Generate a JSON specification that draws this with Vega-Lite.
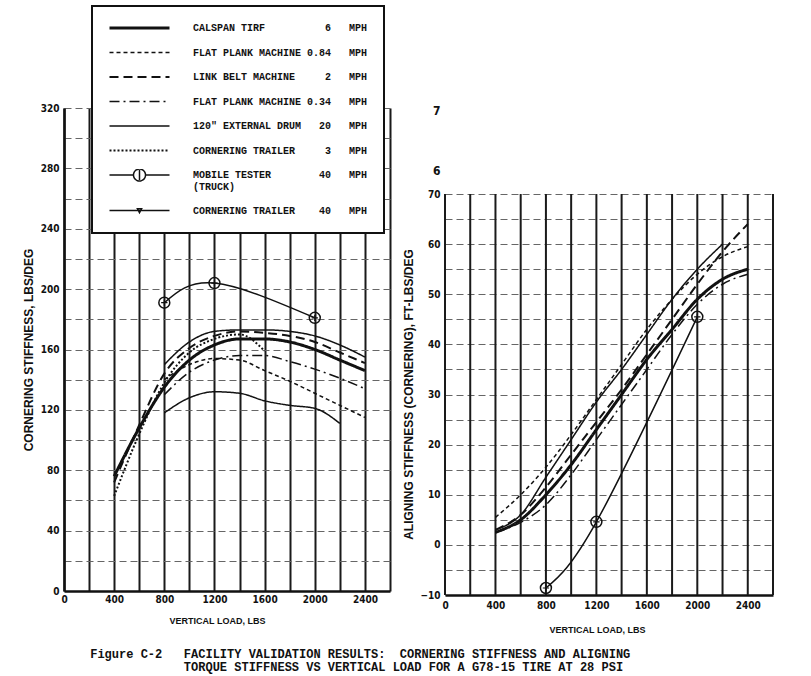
{
  "$schema": "https://vega.github.io/schema/vega-lite/v6.json",
  "background": "white",
  "padding": {"left": 22, "top": 5, "right": 5, "bottom": 2},
  "config": {
    "view": {"stroke": null},
    "font": "Liberation Sans Narrow, DejaVu Sans Condensed, Liberation Sans, sans-serif",
    "axis": {
      "labelFont": "Liberation Sans Narrow, DejaVu Sans Condensed, Liberation Sans, sans-serif",
      "labelFontSize": 10,
      "labelFontWeight": "bold",
      "labelColor": "#111",
      "titleFont": "Liberation Sans, Arial, sans-serif",
      "titleFontSize": 10,
      "titleFontWeight": "bold",
      "titleColor": "#111",
      "ticks": false,
      "domainColor": "#111",
      "labelFlush": false,
      "labelOverlap": false
    },
    "axisX": {"titleFontSize": 9}
  },
  "title": {
    "text": [
      "Figure C-2\u00a0\u00a0\u00a0FACILITY VALIDATION RESULTS:\u00a0 CORNERING STIFFNESS AND ALIGNING",
      "\u200b\u00a0\u00a0\u00a0\u00a0\u00a0\u00a0\u00a0\u00a0\u00a0\u00a0\u00a0\u00a0\u00a0TORQUE STIFFNESS VS VERTICAL LOAD FOR A G78-15 TIRE AT 28 PSI"
    ],
    "orient": "bottom",
    "anchor": "start",
    "dx": 68,
    "offset": 15,
    "font": "Liberation Mono, DejaVu Sans Mono, monospace",
    "fontSize": 12,
    "fontWeight": "bold",
    "lineHeight": 13,
    "color": "#111"
  },
  "datasets": {
    "verticals": [
      {"load": 0, "bottom": -10, "top": 70}, {"load": 200, "bottom": -10, "top": 70},
      {"load": 400, "bottom": -10, "top": 70}, {"load": 600, "bottom": -10, "top": 70},
      {"load": 800, "bottom": -10, "top": 70}, {"load": 1000, "bottom": -10, "top": 70},
      {"load": 1200, "bottom": -10, "top": 70}, {"load": 1400, "bottom": -10, "top": 70},
      {"load": 1600, "bottom": -10, "top": 70}, {"load": 1800, "bottom": -10, "top": 70},
      {"load": 2000, "bottom": -10, "top": 70}, {"load": 2200, "bottom": -10, "top": 70},
      {"load": 2400, "bottom": -10, "top": 70}, {"load": 2600, "bottom": -10, "top": 70}
    ],
    "loads": [
      {"panel": "cornering", "series": "CALSPAN TIRF, 6 MPH", "load": 400, "value": 76},
      {"panel": "cornering", "series": "CALSPAN TIRF, 6 MPH", "load": 600, "value": 108},
      {"panel": "cornering", "series": "CALSPAN TIRF, 6 MPH", "load": 800, "value": 135},
      {"panel": "cornering", "series": "CALSPAN TIRF, 6 MPH", "load": 1000, "value": 153},
      {"panel": "cornering", "series": "CALSPAN TIRF, 6 MPH", "load": 1200, "value": 163},
      {"panel": "cornering", "series": "CALSPAN TIRF, 6 MPH", "load": 1400, "value": 167},
      {"panel": "cornering", "series": "CALSPAN TIRF, 6 MPH", "load": 1600, "value": 167},
      {"panel": "cornering", "series": "CALSPAN TIRF, 6 MPH", "load": 1800, "value": 165},
      {"panel": "cornering", "series": "CALSPAN TIRF, 6 MPH", "load": 2000, "value": 160},
      {"panel": "cornering", "series": "CALSPAN TIRF, 6 MPH", "load": 2200, "value": 153},
      {"panel": "cornering", "series": "CALSPAN TIRF, 6 MPH", "load": 2400, "value": 146},
      {"panel": "cornering", "series": "FLAT PLANK MACHINE, 0.84 MPH", "load": 800, "value": 140},
      {"panel": "cornering", "series": "FLAT PLANK MACHINE, 0.84 MPH", "load": 1000, "value": 150},
      {"panel": "cornering", "series": "FLAT PLANK MACHINE, 0.84 MPH", "load": 1200, "value": 154},
      {"panel": "cornering", "series": "FLAT PLANK MACHINE, 0.84 MPH", "load": 1400, "value": 153},
      {"panel": "cornering", "series": "FLAT PLANK MACHINE, 0.84 MPH", "load": 1600, "value": 146},
      {"panel": "cornering", "series": "FLAT PLANK MACHINE, 0.84 MPH", "load": 1800, "value": 139},
      {"panel": "cornering", "series": "FLAT PLANK MACHINE, 0.84 MPH", "load": 2000, "value": 131},
      {"panel": "cornering", "series": "FLAT PLANK MACHINE, 0.84 MPH", "load": 2200, "value": 123},
      {"panel": "cornering", "series": "FLAT PLANK MACHINE, 0.84 MPH", "load": 2400, "value": 115},
      {"panel": "cornering", "series": "LINK BELT MACHINE, 2 MPH", "load": 400, "value": 72},
      {"panel": "cornering", "series": "LINK BELT MACHINE, 2 MPH", "load": 600, "value": 110},
      {"panel": "cornering", "series": "LINK BELT MACHINE, 2 MPH", "load": 800, "value": 144},
      {"panel": "cornering", "series": "LINK BELT MACHINE, 2 MPH", "load": 1000, "value": 161},
      {"panel": "cornering", "series": "LINK BELT MACHINE, 2 MPH", "load": 1200, "value": 169},
      {"panel": "cornering", "series": "LINK BELT MACHINE, 2 MPH", "load": 1400, "value": 172},
      {"panel": "cornering", "series": "LINK BELT MACHINE, 2 MPH", "load": 1600, "value": 171},
      {"panel": "cornering", "series": "LINK BELT MACHINE, 2 MPH", "load": 1800, "value": 169},
      {"panel": "cornering", "series": "LINK BELT MACHINE, 2 MPH", "load": 2000, "value": 165},
      {"panel": "cornering", "series": "LINK BELT MACHINE, 2 MPH", "load": 2200, "value": 158},
      {"panel": "cornering", "series": "LINK BELT MACHINE, 2 MPH", "load": 2400, "value": 151},
      {"panel": "cornering", "series": "FLAT PLANK MACHINE, 0.34 MPH", "load": 800, "value": 130},
      {"panel": "cornering", "series": "FLAT PLANK MACHINE, 0.34 MPH", "load": 1000, "value": 145},
      {"panel": "cornering", "series": "FLAT PLANK MACHINE, 0.34 MPH", "load": 1200, "value": 153},
      {"panel": "cornering", "series": "FLAT PLANK MACHINE, 0.34 MPH", "load": 1400, "value": 156},
      {"panel": "cornering", "series": "FLAT PLANK MACHINE, 0.34 MPH", "load": 1600, "value": 156},
      {"panel": "cornering", "series": "FLAT PLANK MACHINE, 0.34 MPH", "load": 1800, "value": 152},
      {"panel": "cornering", "series": "FLAT PLANK MACHINE, 0.34 MPH", "load": 2000, "value": 147},
      {"panel": "cornering", "series": "FLAT PLANK MACHINE, 0.34 MPH", "load": 2200, "value": 141},
      {"panel": "cornering", "series": "FLAT PLANK MACHINE, 0.34 MPH", "load": 2400, "value": 134},
      {"panel": "cornering", "series": "120\" EXTERNAL DRUM, 20 MPH", "load": 800, "value": 150},
      {"panel": "cornering", "series": "120\" EXTERNAL DRUM, 20 MPH", "load": 1000, "value": 165},
      {"panel": "cornering", "series": "120\" EXTERNAL DRUM, 20 MPH", "load": 1200, "value": 172},
      {"panel": "cornering", "series": "120\" EXTERNAL DRUM, 20 MPH", "load": 1400, "value": 173},
      {"panel": "cornering", "series": "120\" EXTERNAL DRUM, 20 MPH", "load": 1600, "value": 173},
      {"panel": "cornering", "series": "120\" EXTERNAL DRUM, 20 MPH", "load": 1800, "value": 172},
      {"panel": "cornering", "series": "120\" EXTERNAL DRUM, 20 MPH", "load": 2000, "value": 169},
      {"panel": "cornering", "series": "120\" EXTERNAL DRUM, 20 MPH", "load": 2200, "value": 163},
      {"panel": "cornering", "series": "120\" EXTERNAL DRUM, 20 MPH", "load": 2400, "value": 155},
      {"panel": "cornering", "series": "CORNERING TRAILER, 3 MPH", "load": 400, "value": 63},
      {"panel": "cornering", "series": "CORNERING TRAILER, 3 MPH", "load": 600, "value": 104},
      {"panel": "cornering", "series": "CORNERING TRAILER, 3 MPH", "load": 800, "value": 138},
      {"panel": "cornering", "series": "CORNERING TRAILER, 3 MPH", "load": 1000, "value": 158},
      {"panel": "cornering", "series": "CORNERING TRAILER, 3 MPH", "load": 1200, "value": 167},
      {"panel": "cornering", "series": "CORNERING TRAILER, 3 MPH", "load": 1400, "value": 170},
      {"panel": "cornering", "series": "CORNERING TRAILER, 3 MPH", "load": 1600, "value": 159},
      {"panel": "cornering", "series": "MOBILE TESTER (TRUCK), 40 MPH", "load": 800, "value": 191},
      {"panel": "cornering", "series": "MOBILE TESTER (TRUCK), 40 MPH", "load": 1200, "value": 204},
      {"panel": "cornering", "series": "MOBILE TESTER (TRUCK), 40 MPH", "load": 2000, "value": 181},
      {"panel": "cornering", "series": "CORNERING TRAILER, 40 MPH", "load": 800, "value": 118},
      {"panel": "cornering", "series": "CORNERING TRAILER, 40 MPH", "load": 1000, "value": 128},
      {"panel": "cornering", "series": "CORNERING TRAILER, 40 MPH", "load": 1200, "value": 132},
      {"panel": "cornering", "series": "CORNERING TRAILER, 40 MPH", "load": 1400, "value": 131},
      {"panel": "cornering", "series": "CORNERING TRAILER, 40 MPH", "load": 1600, "value": 126},
      {"panel": "cornering", "series": "CORNERING TRAILER, 40 MPH", "load": 1800, "value": 123},
      {"panel": "cornering", "series": "CORNERING TRAILER, 40 MPH", "load": 2000, "value": 121},
      {"panel": "cornering", "series": "CORNERING TRAILER, 40 MPH", "load": 2200, "value": 111},
      {"panel": "aligning", "series": "CALSPAN TIRF, 6 MPH", "load": 400, "value": 2.5},
      {"panel": "aligning", "series": "CALSPAN TIRF, 6 MPH", "load": 600, "value": 5},
      {"panel": "aligning", "series": "CALSPAN TIRF, 6 MPH", "load": 800, "value": 10},
      {"panel": "aligning", "series": "CALSPAN TIRF, 6 MPH", "load": 1000, "value": 16},
      {"panel": "aligning", "series": "CALSPAN TIRF, 6 MPH", "load": 1200, "value": 23},
      {"panel": "aligning", "series": "CALSPAN TIRF, 6 MPH", "load": 1400, "value": 30},
      {"panel": "aligning", "series": "CALSPAN TIRF, 6 MPH", "load": 1600, "value": 37},
      {"panel": "aligning", "series": "CALSPAN TIRF, 6 MPH", "load": 1800, "value": 43},
      {"panel": "aligning", "series": "CALSPAN TIRF, 6 MPH", "load": 2000, "value": 49},
      {"panel": "aligning", "series": "CALSPAN TIRF, 6 MPH", "load": 2200, "value": 53},
      {"panel": "aligning", "series": "CALSPAN TIRF, 6 MPH", "load": 2400, "value": 55},
      {"panel": "aligning", "series": "FLAT PLANK MACHINE, 0.84 MPH", "load": 400, "value": 5.5},
      {"panel": "aligning", "series": "FLAT PLANK MACHINE, 0.84 MPH", "load": 600, "value": 10},
      {"panel": "aligning", "series": "FLAT PLANK MACHINE, 0.84 MPH", "load": 800, "value": 15.5},
      {"panel": "aligning", "series": "FLAT PLANK MACHINE, 0.84 MPH", "load": 1000, "value": 22},
      {"panel": "aligning", "series": "FLAT PLANK MACHINE, 0.84 MPH", "load": 1200, "value": 29},
      {"panel": "aligning", "series": "FLAT PLANK MACHINE, 0.84 MPH", "load": 1400, "value": 36},
      {"panel": "aligning", "series": "FLAT PLANK MACHINE, 0.84 MPH", "load": 1600, "value": 43},
      {"panel": "aligning", "series": "FLAT PLANK MACHINE, 0.84 MPH", "load": 1800, "value": 49},
      {"panel": "aligning", "series": "FLAT PLANK MACHINE, 0.84 MPH", "load": 2000, "value": 54},
      {"panel": "aligning", "series": "FLAT PLANK MACHINE, 0.84 MPH", "load": 2200, "value": 57.5},
      {"panel": "aligning", "series": "FLAT PLANK MACHINE, 0.84 MPH", "load": 2400, "value": 59.5},
      {"panel": "aligning", "series": "LINK BELT MACHINE, 2 MPH", "load": 400, "value": 3},
      {"panel": "aligning", "series": "LINK BELT MACHINE, 2 MPH", "load": 600, "value": 6},
      {"panel": "aligning", "series": "LINK BELT MACHINE, 2 MPH", "load": 800, "value": 11.5},
      {"panel": "aligning", "series": "LINK BELT MACHINE, 2 MPH", "load": 1000, "value": 18},
      {"panel": "aligning", "series": "LINK BELT MACHINE, 2 MPH", "load": 1200, "value": 24.5},
      {"panel": "aligning", "series": "LINK BELT MACHINE, 2 MPH", "load": 1400, "value": 31},
      {"panel": "aligning", "series": "LINK BELT MACHINE, 2 MPH", "load": 1600, "value": 38},
      {"panel": "aligning", "series": "LINK BELT MACHINE, 2 MPH", "load": 1800, "value": 45},
      {"panel": "aligning", "series": "LINK BELT MACHINE, 2 MPH", "load": 2000, "value": 52},
      {"panel": "aligning", "series": "LINK BELT MACHINE, 2 MPH", "load": 2200, "value": 58.5},
      {"panel": "aligning", "series": "LINK BELT MACHINE, 2 MPH", "load": 2400, "value": 64},
      {"panel": "aligning", "series": "FLAT PLANK MACHINE, 0.34 MPH", "load": 400, "value": 2.5},
      {"panel": "aligning", "series": "FLAT PLANK MACHINE, 0.34 MPH", "load": 600, "value": 4.5},
      {"panel": "aligning", "series": "FLAT PLANK MACHINE, 0.34 MPH", "load": 800, "value": 8},
      {"panel": "aligning", "series": "FLAT PLANK MACHINE, 0.34 MPH", "load": 1000, "value": 14},
      {"panel": "aligning", "series": "FLAT PLANK MACHINE, 0.34 MPH", "load": 1200, "value": 21},
      {"panel": "aligning", "series": "FLAT PLANK MACHINE, 0.34 MPH", "load": 1400, "value": 28},
      {"panel": "aligning", "series": "FLAT PLANK MACHINE, 0.34 MPH", "load": 1600, "value": 35},
      {"panel": "aligning", "series": "FLAT PLANK MACHINE, 0.34 MPH", "load": 1800, "value": 42},
      {"panel": "aligning", "series": "FLAT PLANK MACHINE, 0.34 MPH", "load": 2000, "value": 48},
      {"panel": "aligning", "series": "FLAT PLANK MACHINE, 0.34 MPH", "load": 2200, "value": 52},
      {"panel": "aligning", "series": "FLAT PLANK MACHINE, 0.34 MPH", "load": 2400, "value": 54},
      {"panel": "aligning", "series": "120\" EXTERNAL DRUM, 20 MPH", "load": 400, "value": 3},
      {"panel": "aligning", "series": "120\" EXTERNAL DRUM, 20 MPH", "load": 600, "value": 6},
      {"panel": "aligning", "series": "120\" EXTERNAL DRUM, 20 MPH", "load": 800, "value": 13.5},
      {"panel": "aligning", "series": "120\" EXTERNAL DRUM, 20 MPH", "load": 1000, "value": 21},
      {"panel": "aligning", "series": "120\" EXTERNAL DRUM, 20 MPH", "load": 1200, "value": 28.5},
      {"panel": "aligning", "series": "120\" EXTERNAL DRUM, 20 MPH", "load": 1400, "value": 35},
      {"panel": "aligning", "series": "120\" EXTERNAL DRUM, 20 MPH", "load": 1600, "value": 42},
      {"panel": "aligning", "series": "120\" EXTERNAL DRUM, 20 MPH", "load": 1800, "value": 49},
      {"panel": "aligning", "series": "120\" EXTERNAL DRUM, 20 MPH", "load": 2000, "value": 55},
      {"panel": "aligning", "series": "120\" EXTERNAL DRUM, 20 MPH", "load": 2200, "value": 60},
      {"panel": "aligning", "series": "MOBILE TESTER (TRUCK), 40 MPH", "load": 800, "value": -8.6},
      {"panel": "aligning", "series": "MOBILE TESTER (TRUCK), 40 MPH", "load": 1200, "value": 4.6},
      {"panel": "aligning", "series": "MOBILE TESTER (TRUCK), 40 MPH", "load": 2000, "value": 45.5}
    ]
  },
  "spacing": 12,
  "resolve": {"scale": {"strokeDash": "independent", "strokeWidth": "independent"}},
  "hconcat": [
    {
      "width": 326,
      "height": 483,
      "data": {"name": "loads"},
      "transform": [{"filter": "datum.panel == 'cornering'"}],
      "encoding": {
        "x": {
          "field": "load",
          "type": "quantitative",
          "scale": {"domain": [0, 2600], "nice": false},
          "axis": {
            "title": "VERTICAL LOAD, LBS",
            "values": [0, 200, 400, 600, 800, 1000, 1200, 1400, 1600, 1800, 2000, 2200, 2400, 2600],
            "format": "d",
            "labelExpr": "datum.value % 400 == 0 && datum.value <= 2400 ? datum.label : ''",
            "grid": true,
            "gridColor": "#1a1a1a",
            "gridWidth": 2,
            "domainWidth": 2.5,
            "labelPadding": 3,
            "titlePadding": 12,
            "titleX": 153
          }
        },
        "y": {
          "field": "value",
          "type": "quantitative",
          "scale": {"domain": [0, 320], "nice": false},
          "axis": {
            "title": "CORNERING STIFFNESS, LBS/DEG",
            "values": [0, 20, 40, 60, 80, 100, 120, 140, 160, 180, 200, 220, 240, 260, 280, 300, 320],
            "format": "d",
            "labelExpr": "datum.value % 40 == 0 ? datum.label : ''",
            "grid": true,
            "gridColor": "#666",
            "gridDash": [7, 4],
            "gridWidth": 1,
            "domainWidth": 2.5,
            "labelPadding": 5,
            "titleFontSize": 12,
            "titlePadding": 5
          }
        }
      },
      "layer": [
        {
          "transform": [{"filter": "datum.series != 'MOBILE TESTER (TRUCK), 40 MPH'"}],
          "mark": {"type": "line", "interpolate": "monotone", "color": "#111"},
          "encoding": {
            "strokeDash": {
              "field": "series",
              "type": "nominal",
              "scale": {
                "domain": ["CALSPAN TIRF, 6 MPH", "FLAT PLANK MACHINE, 0.84 MPH", "LINK BELT MACHINE, 2 MPH", "FLAT PLANK MACHINE, 0.34 MPH", "120\" EXTERNAL DRUM, 20 MPH", "CORNERING TRAILER, 3 MPH", "MOBILE TESTER (TRUCK), 40 MPH", "CORNERING TRAILER, 40 MPH"],
                "range": [[1, 0], [4, 3], [9, 5], [10, 4, 2, 4], [1, 0], [2, 2], [1, 0], [1, 0]]
              },
              "legend": {
                "title": null,
                "orient": "none",
                "legendX": 28,
                "legendY": -102,
                "direction": "vertical",
                "symbolType": "stroke",
                "symbolSize": 3600,
                "symbolStrokeColor": "#111",
                "clipHeight": 12,
                "rowPadding": 12.5,
                "labelOffset": 22,
                "labelLimit": 320,
                "labelFont": "Liberation Mono, DejaVu Sans Mono, monospace",
                "labelFontSize": 10,
                "labelFontWeight": "bold",
                "labelColor": "#111",
                "padding": 16,
                "fillColor": "white",
                "strokeColor": "#111",
                "labelExpr": "indexof(datum.label, 'MOBILE') >= 0 ? [pad('MOBILE TESTER', 19, '\u00a0') + pad('40', 4, '\u00a0', 'left') + '\u00a0\u00a0\u00a0MPH', '(TRUCK)'] : pad(split(datum.label, ', ')[0], 19, '\u00a0') + pad(split(split(datum.label, ', ')[1], ' ')[0], 4, '\u00a0', 'left') + '\u00a0\u00a0\u00a0MPH'",
                "encode": {
                  "legend": {"update": {"strokeWidth": {"value": 2}}},
                  "symbols": {"update": {"shape": {"signal": "indexof(datum.value, 'MOBILE') >= 0 ? 'M-1,0L-0.2,0M0.2,0L1,0M-0.2,0A0.2,0.2 0 1 1 0.2,0A0.2,0.2 0 1 1 -0.2,0M0,-0.17L0,0.17' : datum.value == 'CORNERING TRAILER, 40 MPH' ? 'M-1,0L1,0M-0.07,-0.06L0.07,-0.06L0,0.07Z' : 'stroke'"}}}
                }
              }
            },
            "strokeWidth": {
              "field": "series",
              "type": "nominal",
              "scale": {
                "type": "ordinal",
                "domain": ["CALSPAN TIRF, 6 MPH", "FLAT PLANK MACHINE, 0.84 MPH", "LINK BELT MACHINE, 2 MPH", "FLAT PLANK MACHINE, 0.34 MPH", "120\" EXTERNAL DRUM, 20 MPH", "CORNERING TRAILER, 3 MPH", "MOBILE TESTER (TRUCK), 40 MPH", "CORNERING TRAILER, 40 MPH"],
                "range": [3, 1.5, 2, 1.5, 1.5, 2, 1.5, 1.5]
              },
              "legend": {
                "title": null,
                "orient": "none",
                "legendX": 28,
                "legendY": -102,
                "direction": "vertical",
                "symbolType": "stroke",
                "symbolSize": 3600,
                "symbolStrokeColor": "#111",
                "clipHeight": 12,
                "rowPadding": 12.5,
                "labelOffset": 22,
                "labelLimit": 320,
                "labelFont": "Liberation Mono, DejaVu Sans Mono, monospace",
                "labelFontSize": 10,
                "labelFontWeight": "bold",
                "labelColor": "#111",
                "padding": 16,
                "fillColor": "white",
                "strokeColor": "#111",
                "labelExpr": "indexof(datum.label, 'MOBILE') >= 0 ? [pad('MOBILE TESTER', 19, '\u00a0') + pad('40', 4, '\u00a0', 'left') + '\u00a0\u00a0\u00a0MPH', '(TRUCK)'] : pad(split(datum.label, ', ')[0], 19, '\u00a0') + pad(split(split(datum.label, ', ')[1], ' ')[0], 4, '\u00a0', 'left') + '\u00a0\u00a0\u00a0MPH'",
                "encode": {
                  "legend": {"update": {"strokeWidth": {"value": 2}}},
                  "symbols": {"update": {"shape": {"signal": "indexof(datum.value, 'MOBILE') >= 0 ? 'M-1,0L-0.2,0M0.2,0L1,0M-0.2,0A0.2,0.2 0 1 1 0.2,0A0.2,0.2 0 1 1 -0.2,0M0,-0.17L0,0.17' : datum.value == 'CORNERING TRAILER, 40 MPH' ? 'M-1,0L1,0M-0.07,-0.06L0.07,-0.06L0,0.07Z' : 'stroke'"}}}
                }
              }
            }
          }
        },
        {
          "transform": [{"filter": "datum.series == 'MOBILE TESTER (TRUCK), 40 MPH'"}],
          "mark": {"type": "line", "interpolate": "natural", "color": "#111", "strokeWidth": 1.5},
          "encoding": {}
        },
        {
          "transform": [{"filter": "datum.series == 'MOBILE TESTER (TRUCK), 40 MPH'"}],
          "mark": {"type": "point", "shape": "circle", "size": 120, "filled": false, "stroke": "#111", "strokeWidth": 1.5, "opacity": 1}
        },
        {
          "transform": [{"filter": "datum.series == 'MOBILE TESTER (TRUCK), 40 MPH'"}],
          "mark": {"type": "point", "shape": "M0,-1L0,1M-1,0L1,0", "size": 40, "filled": false, "stroke": "#111", "strokeWidth": 1.2, "opacity": 1}
        }
      ]
    },
    {
      "width": 328,
      "height": 487,
      "encoding": {
        "x": {
          "field": "load",
          "type": "quantitative",
          "scale": {"domain": [0, 2600], "nice": false},
          "axis": {
            "title": "VERTICAL LOAD, LBS",
            "values": [0, 200, 400, 600, 800, 1000, 1200, 1400, 1600, 1800, 2000, 2200, 2400, 2600],
            "format": "d",
            "labelExpr": "datum.value % 400 == 0 && datum.value <= 2400 ? datum.label : ''",
            "grid": false,
            "domainWidth": 2.5,
            "labelPadding": 5,
            "titlePadding": 15,
            "titleX": 152
          }
        },
        "y": {
          "field": "value",
          "type": "quantitative",
          "scale": {"domain": [-10, 87.16], "nice": false},
          "axis": {
            "title": "ALIGNING STIFFNESS (CORNERING), FT-LBS/DEG",
            "titleY": 286,
            "values": [-10, -5, 0, 5, 10, 15, 20, 25, 30, 35, 40, 45, 50, 55, 60, 65, 70, 74.6, 86.6],
            "labelExpr": "datum.value == 86.6 ? '7' : datum.value == 74.6 ? '6' : datum.value % 10 == 0 ? format(datum.value, 'd') : ''",
            "labelFontSize": {"condition": {"test": "datum.value > 70", "value": 12}, "value": 10},
            "grid": true,
            "gridColor": "#666",
            "gridDash": [7, 4],
            "gridWidth": 1,
            "gridOpacity": {"condition": {"test": "datum.value > 70", "value": 0}, "value": 1},
            "domain": false,
            "labelPadding": 5,
            "titleFontSize": 12,
            "titlePadding": 4
          }
        }
      },
      "layer": [
        {
          "data": {"name": "verticals"},
          "mark": {"type": "rule", "color": "#1a1a1a", "strokeWidth": 2},
          "encoding": {
            "x": {"field": "load", "type": "quantitative"},
            "y": {"field": "bottom", "type": "quantitative"},
            "y2": {"field": "top"}
          }
        },
        {
          "data": {"name": "loads"},
          "transform": [{"filter": "datum.panel == 'aligning' && datum.series != 'MOBILE TESTER (TRUCK), 40 MPH'"}],
          "mark": {"type": "line", "interpolate": "monotone", "color": "#111"},
          "encoding": {
            "strokeDash": {
              "field": "series",
              "type": "nominal",
              "scale": {
                "domain": ["CALSPAN TIRF, 6 MPH", "FLAT PLANK MACHINE, 0.84 MPH", "LINK BELT MACHINE, 2 MPH", "FLAT PLANK MACHINE, 0.34 MPH", "120\" EXTERNAL DRUM, 20 MPH", "CORNERING TRAILER, 3 MPH", "MOBILE TESTER (TRUCK), 40 MPH", "CORNERING TRAILER, 40 MPH"],
                "range": [[1, 0], [4, 3], [9, 5], [10, 4, 2, 4], [1, 0], [2, 2], [1, 0], [1, 0]]
              },
              "legend": null
            },
            "strokeWidth": {
              "field": "series",
              "type": "nominal",
              "scale": {
                "type": "ordinal",
                "domain": ["CALSPAN TIRF, 6 MPH", "FLAT PLANK MACHINE, 0.84 MPH", "LINK BELT MACHINE, 2 MPH", "FLAT PLANK MACHINE, 0.34 MPH", "120\" EXTERNAL DRUM, 20 MPH", "CORNERING TRAILER, 3 MPH", "MOBILE TESTER (TRUCK), 40 MPH", "CORNERING TRAILER, 40 MPH"],
                "range": [3, 1.5, 2, 1.5, 1.5, 2, 1.5, 1.5]
              },
              "legend": null
            }
          }
        },
        {
          "data": {"name": "loads"},
          "transform": [{"filter": "datum.panel == 'aligning' && datum.series == 'MOBILE TESTER (TRUCK), 40 MPH'"}],
          "mark": {"type": "line", "interpolate": "natural", "color": "#111", "strokeWidth": 1.5},
          "encoding": {}
        },
        {
          "data": {"name": "loads"},
          "transform": [{"filter": "datum.panel == 'aligning' && datum.series == 'MOBILE TESTER (TRUCK), 40 MPH'"}],
          "mark": {"type": "point", "shape": "circle", "size": 120, "filled": false, "stroke": "#111", "strokeWidth": 1.5, "opacity": 1}
        },
        {
          "data": {"name": "loads"},
          "transform": [{"filter": "datum.panel == 'aligning' && datum.series == 'MOBILE TESTER (TRUCK), 40 MPH'"}],
          "mark": {"type": "point", "shape": "M0,-1L0,1M-1,0L1,0", "size": 40, "filled": false, "stroke": "#111", "strokeWidth": 1.2, "opacity": 1}
        }
      ]
    }
  ]
}
